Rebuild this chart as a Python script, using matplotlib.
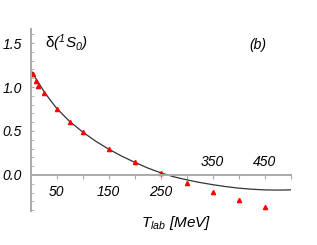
import numpy as np
import matplotlib
matplotlib.use('Agg')
import matplotlib.pyplot as plt

plt.rcParams['font.family'] = ['Liberation Sans', 'DejaVu Sans']
plt.rcParams['mathtext.fontset'] = 'custom'
plt.rcParams['mathtext.it'] = 'Liberation Sans:italic'
plt.rcParams['mathtext.rm'] = 'Liberation Sans:italic'

# phase shift data points (radians)
t_data = [5, 10, 15, 25, 50, 75, 100, 150, 200, 250, 300, 350, 400, 450]
delta_data = [1.15, 1.07, 1.01, 0.93, 0.755, 0.60, 0.49, 0.295, 0.148, 0.02,
              -0.095, -0.197, -0.284, -0.37]

# model curve
t_curve = [0, 5, 10, 15, 20, 25, 35, 50, 75, 100, 125, 150, 175, 200, 225,
           250, 275, 300, 325, 350, 375, 400, 425, 450, 475, 500]
delta_curve = [1.20, 1.15, 1.10, 1.055, 1.005, 0.96, 0.875, 0.76, 0.61, 0.49,
               0.385, 0.295, 0.215, 0.145, 0.08, 0.025, -0.02, -0.055, -0.085,
               -0.11, -0.132, -0.15, -0.162, -0.17, -0.172, -0.17]

x_labels_below = [50, 150, 250]
x_labels_above = [350, 450]
y_labels = [0.0, 0.5, 1.0, 1.5]

fig = plt.figure(figsize=(3.17, 2.45), dpi=100)
ax = fig.add_axes([30.5 / 317, 34 / 245, 260 / 317, 182 / 245])

ax.plot(t_curve, delta_curve, color='#333333', lw=0.9)
ax.plot(t_data, delta_data, '^', color='red', ms=3.0, mec='red')

ax.set_xlim(0, 500)
ax.set_ylim(-0.41, 1.66)

for side in ['top', 'right']:
    ax.spines[side].set_visible(False)
ax.spines['left'].set_position(('data', 0))
ax.spines['bottom'].set_position(('data', 0))
for side in ['left', 'bottom']:
    ax.spines[side].set_color('#aaaaaa')
    ax.spines[side].set_linewidth(1.4)

ax.set_xticks(np.arange(50, 501, 50))
ax.set_xticklabels([])
ax.set_yticks(y_labels)
ax.set_yticklabels(['%.1f' % v for v in y_labels])
ax.set_yticks(np.arange(-0.4, 1.61, 0.1), minor=True)
ax.tick_params(axis='x', length=3, color='#aaaaaa', direction='out')
ax.tick_params(axis='y', which='both', length=2.5, color='#aaaaaa',
               direction='in', labelsize=10, pad=6)
for lbl in ax.get_yticklabels():
    lbl.set_style('italic')

for v in x_labels_below:
    ax.text(v, -0.11, str(v), ha='center', va='top', fontsize=10, style='italic')
for v in x_labels_above:
    ax.text(v, 0.07, str(v), ha='center', va='bottom', fontsize=10, style='italic')

ax.text(28, 1.50, r'δ$(^{1}S_{0})$', ha='left', va='center', fontsize=11)
ax.text(438, 1.48, '(b)', ha='center', va='center', fontsize=10, style='italic')
ax.text(280, -0.55, r'$T_{lab}$ [MeV]', ha='center', va='center', fontsize=11,
        style='italic', clip_on=False)

fig.savefig('out.png', dpi=100)
